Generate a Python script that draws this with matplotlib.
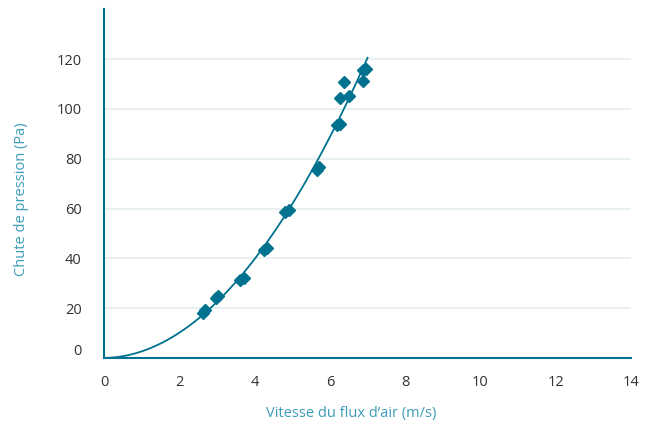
import numpy as np
import matplotlib.pyplot as plt

plt.rcParams['font.family'] = ['Open Sans', 'DejaVu Sans']

# measured points: air flow speed (m/s) vs pressure drop (Pa)
vitesse = [2.64, 2.68, 2.98, 3.02, 3.62, 3.72, 4.24, 4.32, 4.82, 4.92,
           5.66, 5.70, 6.18, 6.26, 6.28, 6.51, 6.38, 6.87, 6.87, 6.95]
pression = [18.0, 19.2, 24.0, 24.8, 31.5, 32.3, 43.4, 44.2, 58.5, 59.5,
            75.5, 76.5, 93.5, 94.0, 104.5, 105.3, 111.0, 111.4, 115.7, 116.2]

xticks = [0, 2, 4, 6, 8, 10, 12, 14]
yticks = [20, 40, 60, 80, 100, 120]

teal = '#00728f'
label_col = '#3d9cb8'
text_col = '#333333'

x = np.array(vitesse)
y = np.array(pression)
# trend line y = a*x^2 + b*x fitted on the points
A = np.column_stack([x ** 2, x])
coef, *_ = np.linalg.lstsq(A, y, rcond=None)
xs = np.linspace(0, 7.0, 200)
ys = coef[0] * xs ** 2 + coef[1] * xs

fig = plt.figure(figsize=(6.56, 4.28), dpi=100)
ax = fig.add_axes([0.1585, 0.1636, 0.8035, 0.8145])

for v in yticks:
    ax.axhline(v, color='#e4edf2', lw=1.2, zorder=0)

ax.plot(xs, ys, color=teal, lw=1.3, zorder=2)
ax.plot(vitesse, pression, linestyle='none', marker='D', ms=6,
        color=teal, zorder=3)

ax.set_xlim(0, 14)
ax.set_ylim(0, 140)
ax.set_xticks(xticks)
ax.set_yticks(yticks)
ax.tick_params(length=0, labelsize=10.5, labelcolor=text_col)
ax.tick_params(axis='y', pad=16)
ax.tick_params(axis='x', pad=12)
# zero label sits a little above the x axis in the reference
ax.text(-0.042, 2.8, '0', transform=ax.get_yaxis_transform(), ha='right',
        va='center', fontsize=10.5, color=text_col)

for s in ['top', 'right']:
    ax.spines[s].set_visible(False)
for s in ['left', 'bottom']:
    ax.spines[s].set_color(teal)
    ax.spines[s].set_linewidth(1.5)

ax.set_xlabel('Vitesse du flux d\u2019air (m/s)', color=label_col,
              fontsize=10.5)
ax.set_ylabel('Chute de pression (Pa)', color=label_col, fontsize=10.5)
ax.xaxis.set_label_coords(0.4696, -0.158)
ax.yaxis.set_label_coords(-0.1556, 0.456)
ax.xaxis.label.set_va('center')
ax.yaxis.label.set_va('center')

fig.savefig('out.png', dpi=100)
